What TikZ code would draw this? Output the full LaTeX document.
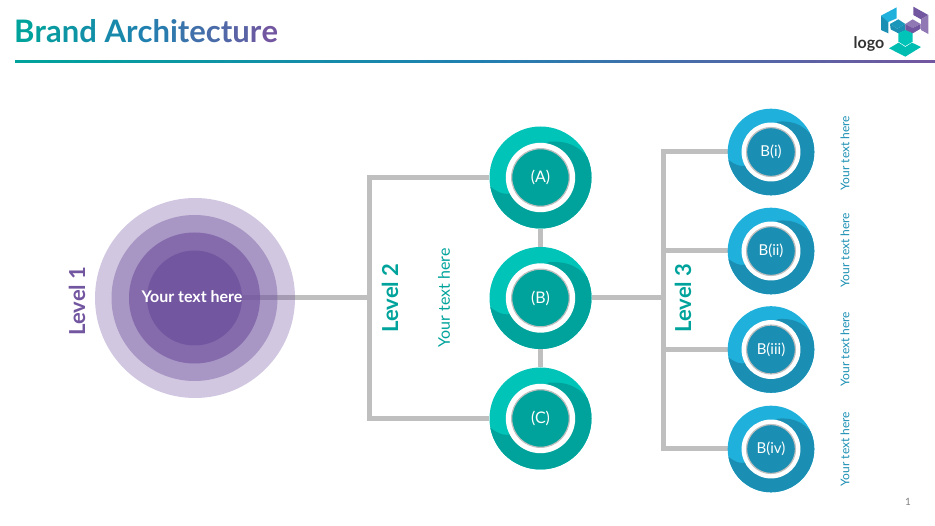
\documentclass[tikz,border=0pt]{standalone}
\usepackage{fontspec}
\setmainfont{Lato}
\usetikzlibrary{backgrounds}

\definecolor{brandteal}{HTML}{00A39B}
\definecolor{brandlight}{HTML}{00C4B8}
\definecolor{brandblue}{HTML}{1B8FB3}
\definecolor{brandsky}{HTML}{1FB1DC}
\definecolor{brandpurple}{HTML}{7356A0}
\definecolor{brandmid}{HTML}{2080B0}
\definecolor{linkgray}{HTML}{BFBFBF}

\tikzset{
	link/.style={draw=linkgray, line width=5pt},
	ring/.style={circle, inner sep=0pt, fill=brandpurple},
	levelname/.style={rotate=90, font=\bfseries\fontsize{22}{22}\selectfont},
	sidetext/.style={rotate=90, font=\fontsize{#1}{#1}\selectfont},
}

% name, position, radius, light, dark, text size, text
\newcommand{\bubble}[7]{
	\node[circle, inner sep=0pt, fill=#4, minimum size={2*#3*1pt}] (#1) at (#2) {};
	\begin{scope}
		\clip (#1) circle [radius=#3*1pt];
		\fill[#5, shift={(#1)}, scale=#3] (1.05,-.22) .. controls (.85,-.55) and (.6,-.74) .. (.15,-.7)
			-- (-.5,.25) .. controls (-.6,.36) and (-.8,.36) .. (-1.05,.12) -- (-1.1,1.1) -- (1.1,1.1) -- cycle;
	\end{scope}
	\node[circle, inner sep=0pt, fill=white, minimum size={1.36*#3*1pt}] (#1 halo) at (#1) {};
	\node[circle, inner sep=0pt, fill=#5, draw=linkgray, line width=1.2pt, minimum size={1.13*#3*1pt},
		text=white, font=\fontsize{#6}{#6}\selectfont] (#1 core) at (#1) {#7};
}
\newcommand{\tl}[2]{\textcolor{#1}{#2}}

\begin{document}
\begin{tikzpicture}[x=1pt, y=-1pt]
	\useasboundingbox (0,0) rectangle (935,526);

	% header
	\node[anchor=west, inner sep=0pt, font=\bfseries\fontsize{31}{31}\selectfont] (title) at (14,31)
		{\tl{brandteal}{B}\tl{brandteal!90!brandmid}{r}\tl{brandteal!75!brandmid}{a}\tl{brandteal!60!brandmid}{n}\tl{brandteal!45!brandmid}{d}\ \tl{brandteal!25!brandmid}{A}\tl{brandteal!10!brandmid}{r}\tl{brandmid}{c}\tl{brandmid!90!brandpurple}{h}\tl{brandmid!80!brandpurple}{i}\tl{brandmid!70!brandpurple}{t}\tl{brandmid!60!brandpurple}{e}\tl{brandmid!50!brandpurple}{c}\tl{brandmid!40!brandpurple}{t}\tl{brandmid!30!brandpurple}{u}\tl{brandmid!15!brandpurple}{r}\tl{brandpurple}{e}};
	\shade[left color=brandteal, right color=brandpurple, middle color=brandmid] (15,61) rectangle (935,63);

	% logo
	\begin{scope}[shift={(820,0)}, scale=1/3]
		\fill[brandblue] (183,47) -- (205,62) -- (205,100) -- (183,90) -- cycle;
		\fill[brandsky] (183,47) -- (230,22) -- (230,55) -- (205,66) -- cycle;
		\fill[brandpurple] (280,20) -- (325,45) -- (303,58) -- (280,45) -- cycle;
		\fill[brandpurple!80] (325,45) -- (325,102) -- (303,90) -- (303,58) -- cycle;
		\fill[brandsky!85!black] (210,72) -- (235,58) -- (256,72) -- (232,86) -- cycle;
		\fill[brandblue] (210,72) -- (232,86) -- (256,72) -- (256,92) -- (235,100) -- (212,88) -- cycle;
		\fill[brandpurple!80] (256,72) -- (278,58) -- (302,72) -- (278,84) -- cycle;
		\fill[brandpurple] (256,72) -- (278,84) -- (302,72) -- (302,86) -- (278,100) -- (256,92) -- cycle;
		\fill[brandlight] (235,100) -- (256,90) -- (278,100) -- (278,125) -- (256,138) -- (235,125) -- cycle;
		\fill[brandlight!80!brandteal] (207,145) -- (236,128) -- (256,141) -- (276,128) -- (303,141) -- (256,170) -- cycle;
	\end{scope}
	\node[inner sep=0pt, font=\bfseries\fontsize{16}{16}\selectfont, text=black!80] (logo) at (869,44) {logo};

	% level 1
	\node[ring, opacity=.33, minimum size=200pt] (outer) at (195,298) {};
	\node[ring, opacity=.44, minimum size=166pt] (middle) at (194.5,298) {};
	\node[ring, opacity=.67, minimum size=131pt] (inner) at (194.5,298) {};
	\node[ring, minimum size=95pt] (top) at (194.5,298) {};
	\node[inner sep=0pt, text=white, font=\bfseries\fontsize{16}{16}\selectfont] (toptext) at (192,297) {Your text here};
	\node[levelname, text=brandpurple] (levelone) at (77,301) {Level 1};

	% level 2
	\bubble{A}{540.5,177.5}{51}{brandlight}{brandteal}{16}{(A)}
	\bubble{B}{540.5,298}{51}{brandlight}{brandteal}{16}{(B)}
	\bubble{C}{540.5,418.5}{51}{brandlight}{brandteal}{16}{(C)}
	\node[levelname, text=brandteal] (leveltwo) at (390,298) {Level 2};
	\node[sidetext=16, text=brandteal] (twotext) at (444,298) {Your text here};

	% level 3
	\bubble{i}{771,152}{43.3}{brandsky}{brandblue}{15}{B(i)}
	\bubble{ii}{771,251}{43.3}{brandsky}{brandblue}{15}{B(ii)}
	\bubble{iii}{771,349.5}{43.3}{brandsky}{brandblue}{15}{B(iii)}
	\bubble{iv}{771,449}{43.3}{brandsky}{brandblue}{15}{B(iv)}
	\node[levelname, text=brandteal] (levelthree) at (683,298) {Level 3};
	\node[sidetext=12, text=brandblue] (itext) at (845,153) {Your text here};
	\node[sidetext=12, text=brandblue] (iitext) at (845,250) {Your text here};
	\node[sidetext=12, text=brandblue] (iiitext) at (845,349) {Your text here};
	\node[sidetext=12, text=brandblue] (ivtext) at (845,449) {Your text here};

	\node[inner sep=0pt, text=black!50, font=\fontsize{10}{10}\selectfont] (page) at (908,502) {1};

	% connectors stay under the circles
	\coordinate (leftbus) at (369,298);
	\coordinate (rightbus) at (663,298);
	\begin{scope}[on background layer]
		\draw[link] (top) -- (leftbus);
		\draw[link] (A) -| (leftbus) |- (C);
		\draw[link] (A) -- (B) -- (C);
		\draw[link] (B) -- (rightbus);
		\foreach \n in {i,ii,iii,iv}
			\draw[link] (rightbus) |- (\n);
	\end{scope}
\end{tikzpicture}
\end{document}
